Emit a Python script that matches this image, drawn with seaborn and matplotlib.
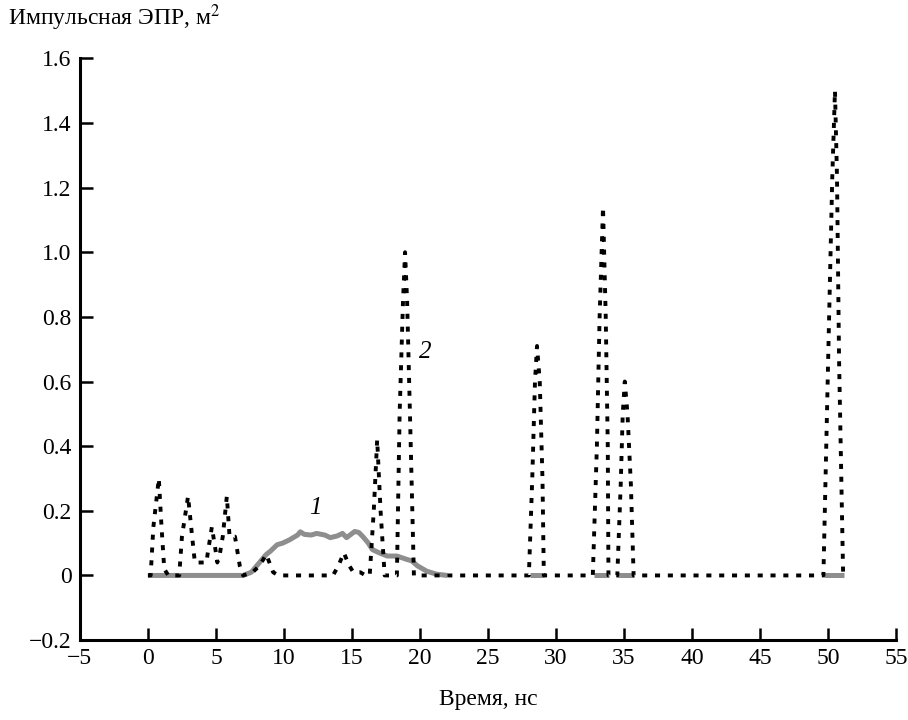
import matplotlib
matplotlib.use("Agg")
import matplotlib.pyplot as plt
import numpy as np
import pandas as pd
import seaborn as sns

nan = np.nan

# кривая 1 (серая сплошная), разрывы — NaN
t1 = [0, 2, 4, 6, 7.0, 7.6, 8.2, 8.7, 9.0, 9.5, 9.9, 10.4, 11.0, 11.2, 11.5, 12.0, 12.4,
      13.0, 13.4, 13.9, 14.3, 14.6, 15.2, 15.5, 15.8, 16.2, 16.5, 17.0, 17.6, 18.3,
      19.0, 19.4, 19.8, 20.5, 21.2, 22.0, 22.1,
      28.1, 29.1, 29.2, 32.8, 33.9, 34.0, 34.5, 35.7, 35.8, 49.7, 51.2]
s1 = [0, 0, 0, 0, 0, 0.01, 0.04, 0.065, 0.075, 0.095, 0.10, 0.11, 0.125, 0.135, 0.127, 0.125, 0.13,
      0.125, 0.117, 0.122, 0.13, 0.117, 0.136, 0.133, 0.12, 0.10, 0.08, 0.07, 0.06, 0.06,
      0.05, 0.045, 0.03, 0.013, 0.004, 0, nan,
      0, 0, nan, 0, 0, nan, 0, 0, nan, 0, 0]

# кривая 2 (чёрная пунктирная)
t2 = [0, 0.2, 0.4, 0.8, 1.0, 1.2, 1.5, 2.0, 2.3, 2.5, 2.95, 3.25, 3.45, 4.3, 4.4, 4.7, 5.0,
      5.1, 5.3, 5.5, 5.8, 6.0, 6.4, 6.75, 7.0, 7.7, 8.2, 8.7, 9.2, 9.6,
      13.6, 14.0, 14.4, 14.8, 15.1, 15.6, 16.0, 16.3, 16.6, 16.85, 17.1, 17.4, 17.9,
      18.3, 18.5, 18.75, 18.9, 19.05, 19.26, 19.55,
      28.0, 28.25, 28.45, 28.6, 28.8, 29.0, 29.1,
      32.7, 33.0, 33.2, 33.45, 33.65, 33.8, 33.85,
      34.5, 34.75, 34.9, 35.05, 35.25, 35.5, 35.7,
      49.65, 50.0, 50.3, 50.5, 50.65, 50.8, 51.1, 51.3]
s2 = [0, 0, 0.15, 0.30, 0.15, 0.02, 0, 0, 0, 0.12, 0.245, 0.12, 0.04, 0.04, 0.07, 0.15, 0.07,
      0.04, 0.07, 0.12, 0.245, 0.12, 0.12, 0.03, 0, 0.01, 0.03, 0.065, 0.01, 0,
      0, 0.03, 0.07, 0.03, 0.01, 0.01, 0, 0, 0.2, 0.42, 0.2, 0, 0,
      0, 0.5, 0.85, 1.0, 0.85, 0.5, 0,
      0, 0.3, 0.6, 0.71, 0.6, 0.3, 0,
      0, 0.4, 0.8, 1.14, 0.8, 0.4, 0,
      0, 0.28, 0.5, 0.6, 0.5, 0.28, 0,
      0, 0.67, 1.23, 1.5, 1.23, 0.67, 0, 0]

x_ticks = list(range(-5, 56, 5))
y_ticks = [-0.2, 0, 0.2, 0.4, 0.6, 0.8, 1.0, 1.2, 1.4, 1.6]
y_ticklabels = ["\u22120.2", "0", "0.2", "0.4", "0.6", "0.8", "1.0", "1.2", "1.4", "1.6"]
x_ticklabels = ["\u22125"] + [str(v) for v in x_ticks[1:]]

df1 = pd.DataFrame({"t": t1, "s": s1})
df1["seg"] = df1["s"].isna().cumsum()   # номер куска серой линии
df1 = df1.dropna()
df2 = pd.DataFrame({"t": t2, "s": s2})

sns.set_theme(style="ticks")
plt.rcParams["font.family"] = ["Liberation Serif", "DejaVu Serif"]
plt.rcParams["mathtext.fontset"] = "stix"

fig = plt.figure(figsize=(9.08, 7.2), dpi=100)
ax = fig.add_axes([0.088, 0.111, 0.899, 0.808])

sns.lineplot(data=df1, x="t", y="s", units="seg", estimator=None, sort=False, ax=ax,
             color="#8e8e8e", linewidth=3.6, solid_capstyle="butt")
sns.lineplot(data=df2, x="t", y="s", ax=ax, color="black", linewidth=2.8,
             linestyle=(0, (1.3, 2.0)), estimator=None, sort=False)

ax.set_xlim(-5, 55)
ax.set_ylim(-0.2, 1.6)
ax.set_xticks(x_ticks)
ax.set_xticklabels(x_ticklabels)
ax.set_yticks(y_ticks)
ax.set_yticklabels(y_ticklabels)
ax.tick_params(direction="in", length=9, width=1.8, labelsize=17, pad=6, colors="black")
for side in ["top", "right"]:
    ax.spines[side].set_visible(False)
for side in ["left", "bottom"]:
    ax.spines[side].set_linewidth(2.2)
    ax.spines[side].set_color("black")

ax.set_xlabel("Время, нс", fontsize=17, labelpad=14, color="black")
ax.set_ylabel("")
fig.text(0.009, 0.975, "Импульсная ЭПР, м$^2$", fontsize=17, ha="left", va="center", color="black")

ax.text(12.3, 0.21, "1", fontsize=18, style="italic", ha="center", va="center", color="black")
ax.text(20.4, 0.69, "2", fontsize=18, style="italic", ha="center", va="center", color="black")

plt.savefig("out.png", dpi=100)
